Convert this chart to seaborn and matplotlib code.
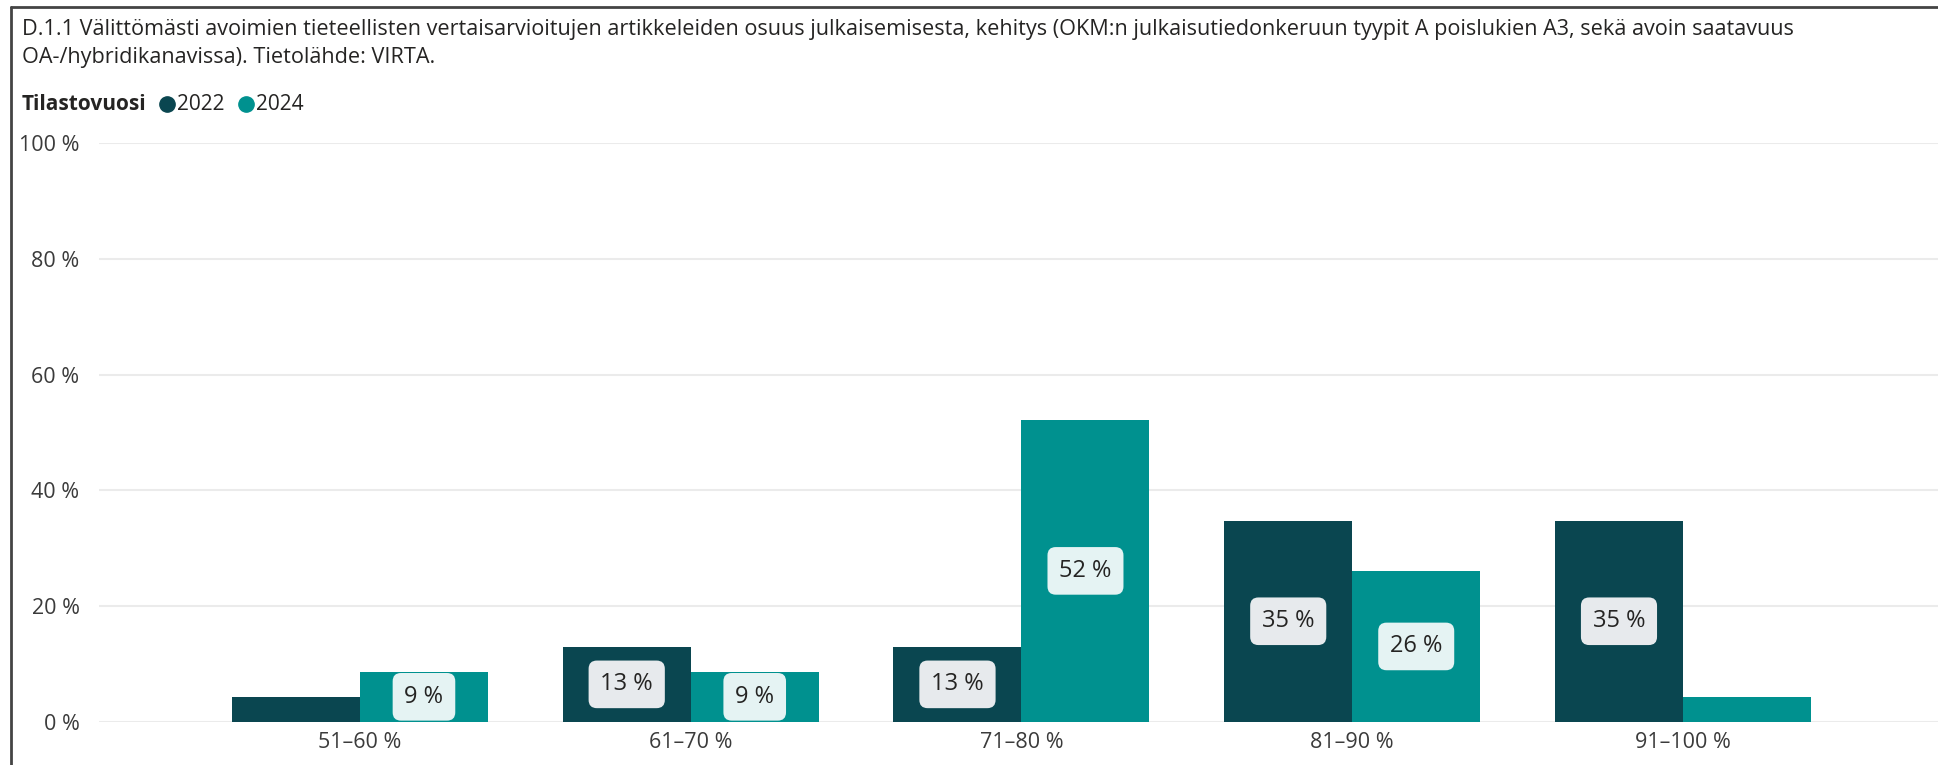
import pandas as pd
import matplotlib.pyplot as plt
import seaborn as sns
from matplotlib.lines import Line2D

# Data
categories = ["51–60 %", "61–70 %", "71–80 %", "81–90 %", "91–100 %"]
years = ["2022", "2024"]
values_2022 = [4.3, 13.0, 13.0, 34.8, 34.8]
values_2024 = [8.7, 8.7, 52.2, 26.1, 4.3]
y_ticks = [0, 20, 40, 60, 80, 100]

title_lines = [
    "D.1.1 Välittömästi avoimien tieteellisten vertaisarvioitujen artikkeleiden osuus julkaisemisesta, "
    "kehitys (OKM:n julkaisutiedonkeruun tyypit A poislukien A3, sekä avoin saatavuus",
    "OA-/hybridikanavissa). Tietolähde: VIRTA.",
]

colors = {"2022": "#0A4650", "2024": "#00918F"}
label_bg = {"2022": "#E7EAED", "2024": "#E5F3F3"}

df = pd.DataFrame({
    "luokka": categories * 2,
    "vuosi": [years[0]] * len(categories) + [years[1]] * len(categories),
    "osuus": values_2022 + values_2024,
})

sns.set_style("white")
plt.rcParams["font.family"] = ["Open Sans", "DejaVu Sans"]

W, H = 1938, 765
fig = plt.figure(figsize=(W / 100, H / 100), dpi=100)
ax = fig.add_axes([99 / W, 1 - 722 / H, 1 - 99 / W, (722 - 143) / H])

sns.barplot(data=df, x="luokka", y="osuus", hue="vuosi", order=categories,
            hue_order=years, palette=colors, width=0.774, gap=0,
            saturation=1, legend=False, ax=ax, zorder=3,
            edgecolor="none", linewidth=0)

ax.set_xlim(-0.789, 4.771)
ax.set_ylim(0, 100)
ax.set_yticks(y_ticks)
ax.set_yticklabels([f"{t} %" for t in y_ticks])
ax.grid(axis="y", color="#EBEBEB", linewidth=1.5, zorder=0)
ax.set_xlabel("")
ax.set_ylabel("")
for s in ax.spines.values():
    s.set_visible(False)
ax.tick_params(axis="both", length=0, labelsize=15.5, labelcolor="#3b3b3b")
ax.tick_params(axis="y", pad=14)
ax.tick_params(axis="x", pad=7)

# Arvolaput palkkien keskelle
for cont, yr in zip(ax.containers, years):
    for bar in cont:
        v = bar.get_height()
        if v < 5:
            continue
        ax.text(bar.get_x() + bar.get_width() / 2, v / 2, f"{round(v)} %",
                ha="center", va="center", fontsize=17, color="#252423", zorder=5,
                bbox=dict(boxstyle="round,pad=0.5,rounding_size=0.35",
                          fc=label_bg[yr], ec="none"))

# Otsikko
fig.text(22 / W, 1 - 30 / H, title_lines[0], fontsize=15.6, color="#252423", va="center")
fig.text(22 / W, 1 - 58 / H, title_lines[1], fontsize=15.6, color="#252423", va="center")

# Selite
fig.text(22 / W, 1 - 104 / H, "Tilastovuosi", fontsize=15, fontweight="bold",
         color="#252423", va="center")
for x_m, yr in zip([167, 246], years):
    fig.add_artist(Line2D([x_m / W], [1 - 104 / H], marker="o", markersize=11,
                          color=colors[yr], linestyle="none"))
    fig.text((x_m + 10) / W, 1 - 104 / H, yr, fontsize=15, color="#252423", va="center")

# Kehys vasemmalle ja ylös
fig.add_artist(Line2D([11 / W, 11 / W], [0, 1 - 7 / H], color="#444444", linewidth=2))
fig.add_artist(Line2D([11 / W, 1], [1 - 7 / H, 1 - 7 / H], color="#444444", linewidth=2))

fig.savefig("out.png", dpi=100)
